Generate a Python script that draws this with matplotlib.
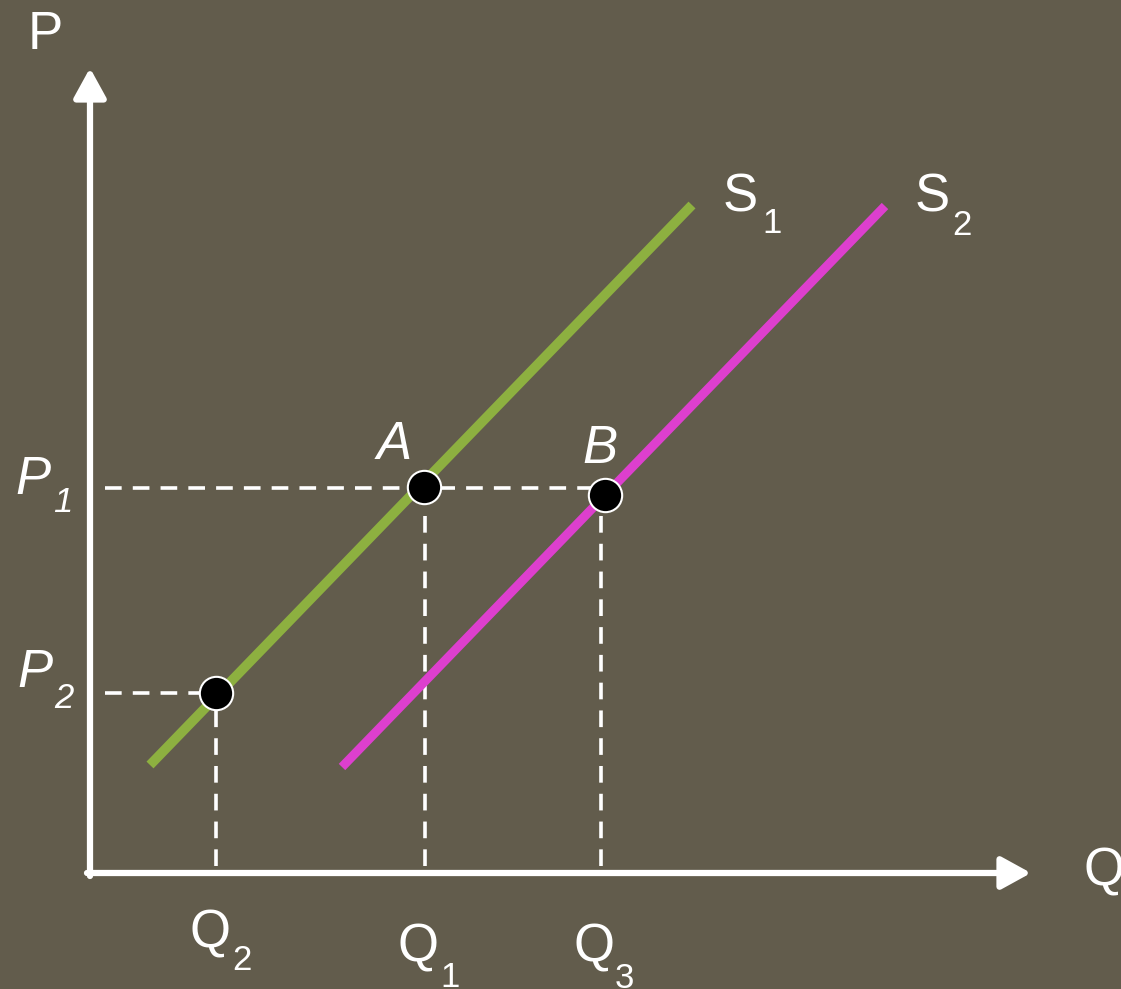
import matplotlib
matplotlib.use("Agg")
import matplotlib.pyplot as plt

plt.rcParams['font.family'] = ['Liberation Sans', 'DejaVu Sans']
plt.rcParams['lines.scale_dashes'] = False

bg = '#625c4c'
green = '#8db040'
magenta = '#dd3fce'

# supply curves (quantity, price)
s1_q = [60, 602]
s1_p = [108, 668]
s2_q = [252, 795]
s2_p = [106, 667]

# equilibrium points A, B and the lower point on S1
pt_names = ['A', 'B', '']
pt_q = [334, 515, 126]
pt_p = [386, 378, 180]

# guide levels
p_levels = [385, 180]      # P1, P2
p_ends = [515, 126]
q_levels = [335, 511, 126]  # Q1, Q3, Q2
q_ends = [386, 378, 180]

big = 38
small = 25

fig = plt.figure(figsize=(11.21, 9.89), dpi=100)
fig.patch.set_facecolor(bg)
ax = fig.add_axes([0, 0, 1, 1])
ax.set_facecolor(bg)
ax.set_xlim(-90, 1031)
ax.set_ylim(-116, 873)
ax.axis('off')

# axes with arrows
ax.annotate('', xy=(0, 805), xytext=(0, -3),
            arrowprops=dict(arrowstyle='-|>,head_length=1.0,head_width=0.55',
                            color='white', lw=4.5, mutation_scale=18,
                            shrinkA=0, shrinkB=0))
ax.annotate('', xy=(941, 0), xytext=(-3, 0),
            arrowprops=dict(arrowstyle='-|>,head_length=1.0,head_width=0.55',
                            color='white', lw=4.5, mutation_scale=18,
                            shrinkA=0, shrinkB=0))

dash = (0, (12, 8))
for lvl, end in zip(p_levels, p_ends):
    ax.plot([15, end], [lvl, lvl], color='white', lw=2.6, linestyle=dash, zorder=2)
for lvl, end in zip(q_levels, q_ends):
    ax.plot([lvl, lvl], [7, end], color='white', lw=2.6, linestyle=dash, zorder=2)

ax.plot(s1_q, s1_p, color=green, lw=7, solid_capstyle='butt', zorder=3)
ax.plot(s2_q, s2_p, color=magenta, lw=6.5, solid_capstyle='butt', zorder=3)

ax.plot(pt_q, pt_p, 'o', ms=24, mfc='black', mec='white', mew=1.5, zorder=4)


def label(x, y, main, sub=None, sx=0, sy=0, style='normal'):
    ax.text(x, y, main, fontsize=big, color='white', style=style,
            ha='left', va='baseline')
    if sub:
        ax.text(sx, sy, sub, fontsize=small, color='white', style=style,
                ha='left', va='baseline')


label(-62, 824, 'P')
label(993, -13, 'Q')
label(633, 661, 'S', '1', 672, 640)
label(825, 661, 'S', '2', 862, 638)
label(287, 414, 'A', style='italic')
label(492, 410, 'B', style='italic')
label(-75, 379, 'P', '1', -37, 361, style='italic')
label(-73, 186, 'P', '2', -36, 165, style='italic')
label(100, -75, 'Q', '2', 142, -97)
label(307, -89, 'Q', '1', 350, -114)
label(483, -89, 'Q', '3', 525, -115)

fig.savefig('out.png', dpi=100, facecolor=bg)
